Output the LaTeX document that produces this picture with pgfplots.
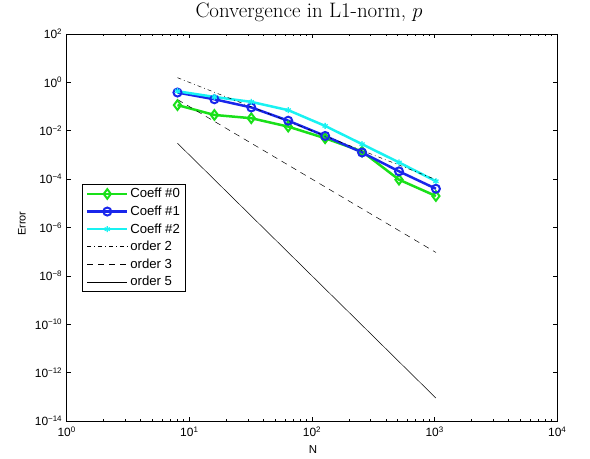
\documentclass[border=0pt]{standalone}
\usepackage{pgfplots}
\pgfplotsset{compat=1.18}
\usepackage{fontspec}
\setsansfont{Liberation Sans}
\definecolor{cgreen}{rgb}{0.1,0.88,0.1}
\definecolor{cblue}{rgb}{0.1,0.15,0.92}
\definecolor{ccyan}{rgb}{0.1,0.95,0.95}
\newcommand{\tl}[1]{10\textsuperscript{#1}}
\begin{document}
\begin{tikzpicture}
\begin{axis}[
  name=ax,
  xmode=log, ymode=log,
  scale only axis,
  width=490.6bp, height=387bp,
  xmin=1, xmax=1e4, ymin=1e-14, ymax=1e2,
  xtick={1,10,100,1000,10000},
  xticklabels={\tl{0},\tl{1},\tl{2},\tl{3},\tl{4}},
  minor xtick={2,3,4,5,6,7,8,9,20,30,40,50,60,70,80,90,200,300,400,500,600,700,800,900,2000,3000,4000,5000,6000,7000,8000,9000},
  ytick={1e2,1,1e-2,1e-4,1e-6,1e-8,1e-10,1e-12,1e-14},
  yticklabels={\tl{2},\tl{0},\tl{−2},\tl{−4},\tl{−6},\tl{−8},\tl{−10},\tl{−12},\tl{−14}},
  yminorticks=false,
  tick align=inside,
  major tick length=4bp,
  minor tick length=2.5bp,
  tick style={black, line width=0.5bp},
  axis line style={line width=0.8bp},
  ticklabel style={font=\fontsize{12}{14}\sffamily},
  yticklabel style={xshift=-1bp},
  xticklabel style={yshift=-2bp},
  every axis title shift=0pt,
  title={Convergence in L1-norm, $p$},
  title style={font=\fontsize{21}{25}\selectfont, at={(axis description cs:0.494,1.0432)}, anchor=base, inner sep=0pt},
  xlabel={N},
  ylabel={Error},
  xlabel style={font=\fontsize{11.5}{13}\sffamily, at={(axis description cs:0.502,-0.0736)}, anchor=center},
  ylabel style={font=\fontsize{11}{13}\sffamily, at={(axis description cs:-0.0914,0.51)}, anchor=center},
  legend style={at={(0.032,0.612)}, anchor=north west, font=\fontsize{13.2}{15}\sffamily,
    draw=black, line width=0.6bp, inner xsep=3.5bp, inner ysep=2bp, row sep=2.6bp,
    /tikz/every even column/.append style={column sep=1bp}},
  legend cell align=left,
  legend image code/.code={\draw[mark repeat=2,mark phase=2] plot coordinates {(0cm,0cm) (0.7cm,0cm) (1.4cm,0cm)};},
]
\addplot[cgreen, line width=2.5bp, mark=diamond, mark size=4.8bp, mark options={solid, line width=2bp}]
  coordinates {(8,0.115)(16,0.045)(32,0.033)(64,0.0148)(128,0.0049)(256,0.00139)(512,9.5e-5)(1024,2.0e-5)};
\addlegendentry{Coeff \#0}
\addplot[cblue, line width=2.5bp, mark=o, mark size=4bp, mark options={solid, line width=2bp}]
  coordinates {(8,0.38)(16,0.20)(32,0.092)(64,0.026)(128,0.0061)(256,0.00126)(512,2.1e-4)(1024,4.0e-5)};
\addlegendentry{Coeff \#1}
\addplot[ccyan, line width=2.5bp, mark=asterisk, mark size=3bp, mark options={solid, line width=1.3bp}]
  coordinates {(8,0.43)(16,0.25)(32,0.156)(64,0.071)(128,0.0158)(256,0.0028)(512,4.9e-4)(1024,8.2e-5)};
\addlegendentry{Coeff \#2}
\addplot[black, line width=0.5bp, dash pattern=on 4bp off 3bp on 0.8bp off 3bp]
  coordinates {(8,1.5625)(1024,9.5367e-5)};
\addlegendentry{order 2}
\addplot[black, line width=0.5bp, dash pattern=on 6bp off 5bp]
  coordinates {(8,0.1953125)(1024,9.3132e-8)};
\addlegendentry{order 3}
\addplot[black, line width=0.5bp]
  coordinates {(8,3.0518e-3)(1024,8.8818e-14)};
\addlegendentry{order 5}
\end{axis}
\pgfresetboundingbox
\path (ax.south west) ++(-66.7bp,-38bp) rectangle ++(590bp,459bp);
\end{tikzpicture}
\end{document}
